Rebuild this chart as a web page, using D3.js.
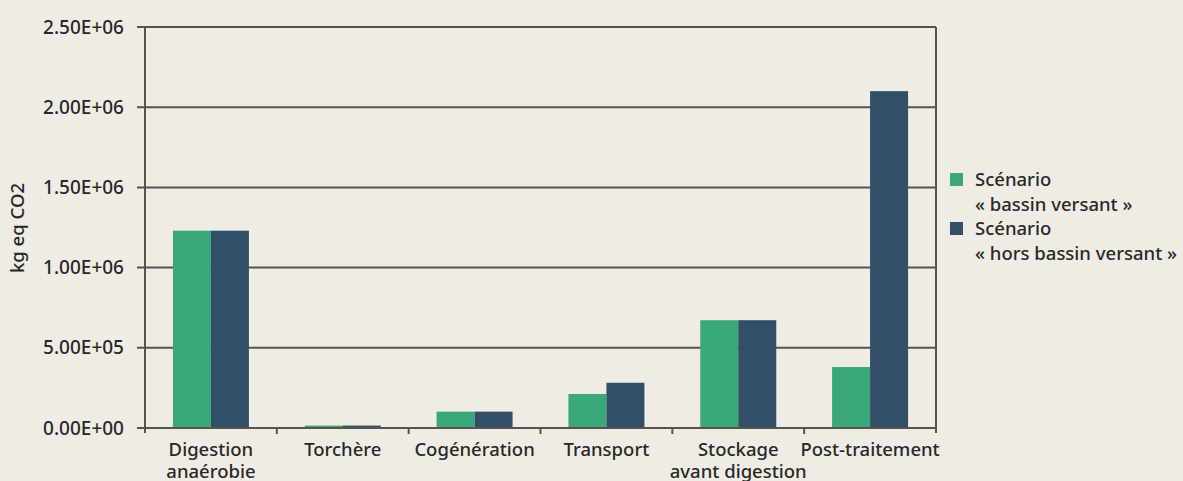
<!DOCTYPE html>
<html><head><meta charset="utf-8">
<script src="https://cdn.jsdelivr.net/npm/d3@7"></script>
<style>
html,body{margin:0;padding:0;background:#efece6;}
svg{display:block;font-family:"Noto Sans",sans-serif;font-weight:500;}
</style></head><body>
<svg id="c" width="1183" height="481"></svg>
<script>
const categories = [["Digestion","anaérobie"],["Torchère"],["Cogénération"],["Transport"],["Stockage","avant digestion"],["Post-traitement"]];
const seriesNames = [["Scénario","« bassin versant »"],["Scénario","« hors bassin versant »"]];
const bassinVersant = [1230000, 15000, 102000, 212000, 672000, 380000];
const horsBassinVersant = [1230000, 15000, 102000, 282000, 672000, 2100000];
const yTicks = [0, 500000, 1000000, 1500000, 2000000, 2500000];
const yTickLabels = ["0.00E+00","5.00E+05","1.00E+06","1.50E+06","2.00E+06","2.50E+06"];
const colors = ["#3aa87a","#324f68"];

const svg = d3.select("#c");
const L=145, R=936, T=27, B=428;
const x = d3.scaleBand().domain(d3.range(categories.length)).range([L,R]);
const y = d3.scaleLinear().domain([0,2500000]).range([B,T]);
const gridColor="#57534f";
const txt="#2a2826";

svg.append("g").selectAll("line").data(yTicks).join("line")
  .attr("x1",L-8).attr("x2",R).attr("y1",d=>y(d)).attr("y2",d=>y(d))
  .attr("stroke",gridColor).attr("stroke-width",2);

const data = [bassinVersant, horsBassinVersant];
const bw = 38;
data.forEach((vals,si)=>{
  svg.append("g").selectAll("rect").data(vals).join("rect")
    .attr("x",(d,i)=>x(i)+x.bandwidth()/2 - bw + si*bw)
    .attr("width",bw)
    .attr("y",d=>y(d))
    .attr("height",d=>B-y(d))
    .attr("fill",colors[si]);
});

svg.append("line").attr("x1",L).attr("x2",L).attr("y1",T).attr("y2",B+5).attr("stroke",gridColor).attr("stroke-width",2);
svg.append("line").attr("x1",R).attr("x2",R).attr("y1",T).attr("y2",B+5).attr("stroke",gridColor).attr("stroke-width",2);
svg.append("line").attr("x1",L).attr("x2",R).attr("y1",B).attr("y2",B).attr("stroke",gridColor).attr("stroke-width",2);
svg.append("g").selectAll("line").data(d3.range(1,categories.length)).join("line")
  .attr("x1",d=>x(d)).attr("x2",d=>x(d)).attr("y1",B).attr("y2",B+6)
  .attr("stroke",gridColor).attr("stroke-width",2);

svg.append("g").selectAll("text").data(yTicks).join("text")
  .attr("x",L-21).attr("y",d=>y(d)).attr("dy","0.35em")
  .attr("text-anchor","end").attr("font-size",19).attr("fill",txt)
  .text((d,i)=>yTickLabels[i]);

const xl = svg.append("g").selectAll("text").data(categories).join("text")
  .attr("x",(d,i)=>x(i)+x.bandwidth()/2).attr("y",456)
  .attr("text-anchor","middle").attr("font-size",18.5).attr("fill",txt);
xl.selectAll("tspan").data(d=>d).join("tspan")
  .attr("x",function(){return this.parentNode.getAttribute("x");})
  .attr("dy",(d,i)=>i===0?0:22).text(d=>d);

svg.append("text").attr("transform","translate(24,228) rotate(-90)")
  .attr("text-anchor","middle").attr("font-size",18.5).attr("fill",txt).text("kg eq CO2");

seriesNames.forEach((nm,i)=>{
  const y0 = 173 + i*49;
  svg.append("rect").attr("x",950).attr("y",y0).attr("width",13).attr("height",13).attr("fill",colors[i]);
  const t = svg.append("text").attr("x",975).attr("y",y0+13).attr("font-size",18.5).attr("fill",txt);
  t.selectAll("tspan").data(nm).join("tspan").attr("x",975).attr("dy",(d,j)=>j===0?0:24.5).text(d=>d);
});
</script>
</body></html>
